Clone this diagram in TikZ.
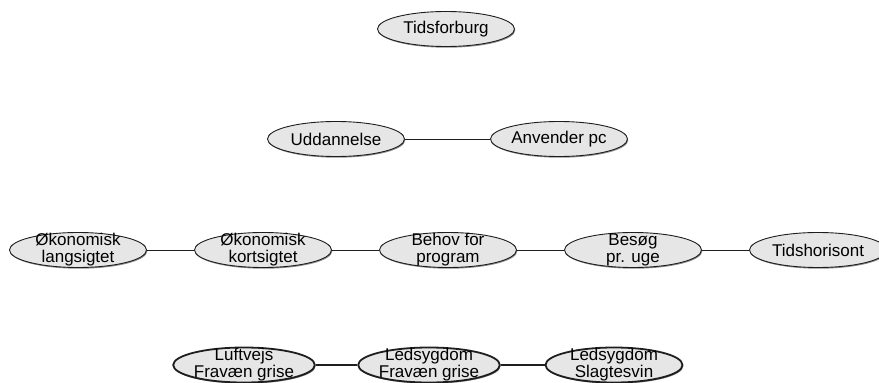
\documentclass[tikz,border=0pt]{standalone}
\usepackage{fontspec}
\setmainfont{Liberation Sans}
\usetikzlibrary{shapes.geometric,shadows}
\definecolor{ovalfill}{RGB}{230,230,230}
\definecolor{ovalline}{RGB}{30,30,30}

\begin{document}
\begin{tikzpicture}[x=1pt,y=-1pt,
    oval/.style={ellipse, draw=ovalline, fill=ovalfill, line width=0.9pt,
      minimum width=137pt, minimum height=35pt, inner xsep=0pt, inner ysep=-5pt,
      align=center, font=\fontsize{17}{17}\selectfont,
      drop shadow={shadow xshift=0.8pt, shadow yshift=-1.2pt, fill=black, opacity=0.45}},
    heavy/.style={oval, line width=1.8pt},
    link/.style={draw=ovalline, line width=0.9pt},
    heavylink/.style={link, line width=1.8pt}]
    \useasboundingbox (0,0) rectangle (879,383);

    % top
    \node[oval] (tidsforburg) at (446,29) {Tidsforburg};

    % second row
    \node[oval] (uddannelse) at (336,139) {Uddannelse};
    \node[oval] (anvender) at (559,139) {Anvender pc};
    \draw[link] (uddannelse) -- (anvender);

    % third row
    \node[oval] (oekolang) at (78,250) {Økonomisk\\langsigtet};
    \node[oval] (oekokort) at (263,250) {Økonomisk\\kortsigtet};
    \node[oval] (behov) at (448,250) {Behov for\\program};
    \node[oval] (besoeg) at (633,250) {Besøg\\pr. uge};
    \node[oval] (horisont) at (818,250) {Tidshorisont};
    \draw[link] (oekolang) -- (oekokort);
    \draw[link] (oekokort) -- (behov);
    \draw[link] (behov) -- (besoeg);
    \draw[link] (besoeg) -- (horisont);

    % bottom row
    \node[heavy] (luftvejs) at (244,365) {Luftvejs\\Fravæn grise};
    \node[heavy] (ledfravaer) at (429,365) {Ledsygdom\\Fravæn grise};
    \node[heavy] (ledslagt) at (614,365) {Ledsygdom\\Slagtesvin};
    \draw[heavylink] (luftvejs) -- (ledfravaer);
    \draw[heavylink] (ledfravaer) -- (ledslagt);
\end{tikzpicture}
\end{document}
